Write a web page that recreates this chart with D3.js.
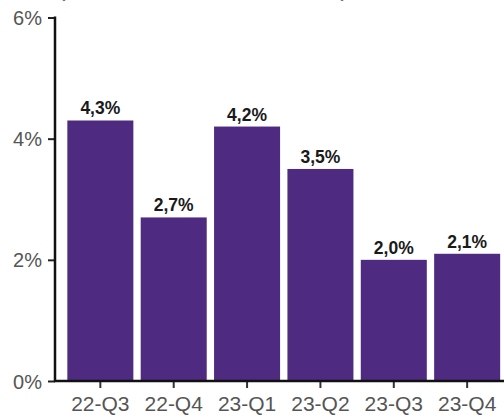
<!DOCTYPE html>
<html>
<head>
<meta charset="utf-8">
<script src="https://cdn.jsdelivr.net/npm/d3@7"></script>
<style>
  html, body { margin: 0; padding: 0; background: #fff; }
  svg { display: block; font-family: "Liberation Sans", Arial, sans-serif; }
</style>
</head>
<body>
<svg id="chart" width="504" height="417"></svg>
<script>
// Quarterly growth rates
const quarters = ["22-Q3", "22-Q4", "23-Q1", "23-Q2", "23-Q3", "23-Q4"];
const rates = [4.3, 2.7, 4.2, 3.5, 2.0, 2.1];
const yTicks = [0, 2, 4, 6];
const subtitle = "(tasa de variación interanual)";

const svg = d3.select("#chart");
const W = 504, H = 417;
const left = 55, baseY = 381, topY = 17.5;

const x = d3.scaleBand()
  .domain(quarters)
  .range([60, 507.5])
  .paddingInner(0.1)
  .paddingOuter(0.1);

const y = d3.scaleLinear().domain([0, 6]).range([baseY, topY]);

const fmt = v => v.toFixed(1).replace(".", ",") + "%";

// subtitle, running off the top edge
svg.append("text")
  .attr("x", 58).attr("y", -3)
  .attr("font-size", 21).attr("fill", "#666")
  .attr("textLength", 290).attr("lengthAdjust", "spacingAndGlyphs")
  .text(subtitle);

// bars
svg.append("g").selectAll("rect")
  .data(rates)
  .join("rect")
  .attr("x", (d, i) => x(quarters[i]))
  .attr("width", x.bandwidth())
  .attr("y", d => y(d))
  .attr("height", d => baseY - y(d))
  .attr("fill", "#4e2b80");

// value labels
svg.append("g").selectAll("text")
  .data(rates)
  .join("text")
  .attr("x", (d, i) => x(quarters[i]) + x.bandwidth() / 2)
  .attr("y", d => y(d) - 6)
  .attr("text-anchor", "middle")
  .attr("font-size", 17.5).attr("font-weight", "bold")
  .attr("fill", "#1a1a1a")
  .text(fmt);

// y axis
const yAxis = svg.append("g")
  .attr("transform", `translate(${left},0)`)
  .call(d3.axisLeft(y).tickValues(yTicks).tickSize(7).tickPadding(6).tickFormat(d => d + "%"));
yAxis.select(".domain").remove();
yAxis.selectAll(".tick line").attr("stroke", "#222").attr("stroke-width", 2);
yAxis.selectAll(".tick text").attr("font-size", 20).attr("fill", "#555").attr("dy", "0.35em")
  .attr("font-family", "Liberation Sans, Arial, sans-serif");
svg.append("line")
  .attr("x1", left).attr("x2", left)
  .attr("y1", y(6) - 1).attr("y2", baseY + 1)
  .attr("stroke", "#111").attr("stroke-width", 2.5);

// x axis
const xAxis = svg.append("g")
  .attr("transform", `translate(0,${baseY})`)
  .call(d3.axisBottom(x).tickSize(7).tickPadding(8));
xAxis.select(".domain").remove();
xAxis.selectAll(".tick line").attr("stroke", "#333").attr("stroke-width", 2);
xAxis.selectAll(".tick text").attr("font-size", 21).attr("fill", "#555")
  .attr("font-family", "Liberation Sans, Arial, sans-serif");
svg.append("line")
  .attr("x1", left - 1).attr("x2", W)
  .attr("y1", baseY).attr("y2", baseY)
  .attr("stroke", "#111").attr("stroke-width", 2.5);
</script>
</body>
</html>
